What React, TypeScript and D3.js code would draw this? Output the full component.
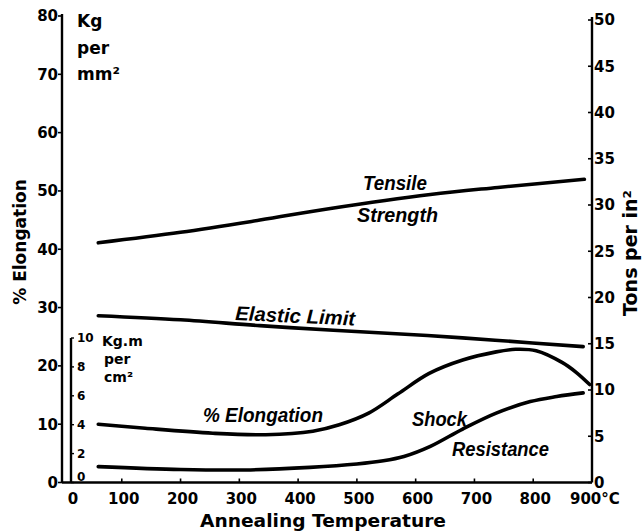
import React from "react";
import * as d3 from "d3";

// ---- data ----
const tempTicks = [0, 100, 200, 300, 400, 500, 600, 700, 800, 900];
const leftTicks = [0, 10, 20, 30, 40, 50, 60, 70, 80];
const rightTicks = [0, 5, 10, 15, 20, 25, 30, 35, 40, 45, 50];
const innerTicks = [0, 2, 4, 6, 8, 10];

// Tensile strength, kg/mm2
const tensileTemp = [60, 200, 335, 455, 625, 740, 887];
const tensileVal = [41.1, 42.9, 45.0, 47.0, 49.4, 50.6, 52.0];
// Elastic limit, kg/mm2
const elasticTemp = [60, 200, 335, 460, 620, 735, 885];
const elasticVal = [28.6, 27.9, 26.9, 26.1, 25.2, 24.4, 23.3];
// % Elongation
const elongTemp = [60, 140, 255, 345, 425, 470, 520, 570, 623, 680, 737, 770, 805, 849, 873, 896];
const elongVal = [10.0, 9.3, 8.45, 8.2, 8.8, 9.9, 11.9, 15.2, 18.7, 21.0, 22.4, 22.85, 22.6, 20.6, 18.9, 16.8];
// Shock resistance, kg.m/cm2
const shockTemp = [60, 200, 310, 420, 500, 545, 580, 625, 680, 737, 795, 840, 885];
const shockVal = [1.1, 0.9, 0.87, 1.05, 1.28, 1.5, 1.8, 2.5, 3.7, 4.8, 5.6, 5.95, 6.2];

const W = 643;
const H = 531;
const FONT = "'DejaVu Sans', Verdana, sans-serif";
const IFONT = "'Liberation Sans', Arial, sans-serif";

export default function App() {
  const x = d3.scaleLinear().domain([0, 900]).range([63, 592]);
  const yL = d3.scaleLinear().domain([0, 80]).range([482.5, 16]);
  const yR = d3.scaleLinear().domain([0, 50]).range([482.5, 20]);
  const yI = d3.scaleLinear().domain([0, 10]).range([482.5, 338]);

  const mk = (ts: number[], vs: number[], ys: d3.ScaleLinear<number, number>) =>
    d3
      .line<number>()
      .x((_, i) => x(ts[i]))
      .y((v) => ys(v))
      .curve(d3.curveCatmullRom.alpha(0.5))(vs) || "";

  const x0 = x(0) - 1;
  const xR = x(900);
  const yB = yL(0);
  const xI = 71;

  const lineStyle = { fill: "none", stroke: "#000", strokeWidth: 3.6, strokeLinecap: "round" as const, strokeLinejoin: "round" as const };
  const ital = { fontFamily: IFONT, fontStyle: "italic", fontWeight: 700, fontSize: 20, fill: "#000" } as const;

  return (
    <svg width={W} height={H} style={{ position: "absolute", left: 0, top: 0, background: "#fff" }}>
      <rect width={W} height={H} fill="#fff" />
      {/* axes */}
      <g stroke="#000" strokeWidth={2.4} fill="none">
        <line x1={x0} y1={yB} x2={x0} y2={yL(80) - 2} />
        <line x1={x0} y1={yB} x2={xR} y2={yB} />
        <line x1={xR} y1={yB} x2={xR} y2={yR(50) - 3} />
        <line x1={xI} y1={yB} x2={xI} y2={yI(10)} />
      </g>
      {/* left ticks */}
      <g fontFamily={FONT} fontWeight={700} fontSize={15} fill="#000">
        {leftTicks.map((t) => (
          <g key={"l" + t}>
            <line x1={x0 - 4} x2={x0} y1={yL(t)} y2={yL(t)} stroke="#000" strokeWidth={1.6} />
            <text x={x0 - 4} y={yL(t)} dy="0.36em" textAnchor="end">{t}</text>
          </g>
        ))}
      </g>
      {/* right ticks */}
      <g fontFamily={FONT} fontWeight={700} fontSize={15} fill="#000">
        {rightTicks.map((t) => (
          <g key={"r" + t}>
            <line x1={xR - 4} x2={xR} y1={yR(t)} y2={yR(t)} stroke="#000" strokeWidth={1.6} />
            <text x={xR + 2} y={yR(t)} dy="0.36em" textAnchor="start">{t}</text>
          </g>
        ))}
      </g>
      {/* inner shock-resistance axis */}
      <g fontFamily={FONT} fontWeight={700} fontSize={12} fill="#000">
        {innerTicks.map((t) => (
          <g key={"i" + t}>
            <line x1={xI} x2={xI + 3} y1={yI(t)} y2={yI(t)} stroke="#000" strokeWidth={1.4} />
            <text x={xI + 6} y={Math.min(yI(t), 477)} dy="0.36em" textAnchor="start">{t}</text>
          </g>
        ))}
      </g>
      {/* bottom ticks */}
      <g fontFamily={FONT} fontWeight={700} fontSize={15} fill="#000">
        {tempTicks.map((t) => (
          <g key={"b" + t}>
            {t > 0 && t < 900 && (
              <line x1={x(t)} x2={x(t)} y1={yB} y2={yB - 4} stroke="#000" strokeWidth={1.6} />
            )}
            {t === 900 ? (
              <text x={x(t) - 22} y={503.5} textAnchor="start">{t}°C</text>
            ) : (
              <text x={t === 0 ? x(t) + 10 : x(t) + 2} y={503.5} textAnchor="middle">{t}</text>
            )}
          </g>
        ))}
      </g>
      {/* curves */}
      <path d={mk(tensileTemp, tensileVal, yL)} {...lineStyle} />
      <path d={mk(elasticTemp, elasticVal, yL)} {...lineStyle} />
      <path d={mk(elongTemp, elongVal, yL)} {...lineStyle} />
      <path d={mk(shockTemp, shockVal, yI)} {...lineStyle} />

      {/* curve labels */}
      <text x={363} y={190} {...ital} textLength={64} lengthAdjust="spacingAndGlyphs">Tensile</text>
      <text x={357} y={222} {...ital} textLength={81} lengthAdjust="spacingAndGlyphs">Strength</text>
      <text x={235} y={320} {...ital} textLength={120} lengthAdjust="spacingAndGlyphs" transform="rotate(2.6 235 320)">Elastic Limit</text>
      <text x={203} y={422} {...ital} textLength={120} lengthAdjust="spacingAndGlyphs">% Elongation</text>
      <text x={412} y={426} {...ital} textLength={55} lengthAdjust="spacingAndGlyphs">Shock</text>
      <text x={452} y={456} {...ital} textLength={97} lengthAdjust="spacingAndGlyphs">Resistance</text>

      {/* unit labels */}
      <g fontFamily={FONT} fontWeight={700} fontSize={17} fill="#000">
        <text x={77} y={27}>Kg</text>
        <text x={77} y={54}>per</text>
        <text x={77} y={80}>mm²</text>
      </g>
      <g fontFamily={FONT} fontWeight={700} fontSize={14} fill="#000">
        <text x={102} y={346}>Kg.m</text>
        <text x={104} y={364}>per</text>
        <text x={104} y={382}>cm²</text>
      </g>

      {/* axis titles */}
      <text
        fontFamily={FONT}
        fontWeight={700}
        fontSize={17}
        textAnchor="middle"
        transform="translate(26,242) rotate(-90)"
      >
        % Elongation
      </text>
      <text
        fontFamily={FONT}
        fontWeight={700}
        fontSize={19}
        textAnchor="middle"
        transform="translate(637,253) rotate(-90)"
      >
        Tons per in²
      </text>
      <text
        fontFamily={FONT}
        fontWeight={700}
        fontSize={18}
        textAnchor="middle"
        x={323}
        y={527}
        textLength={246}
        lengthAdjust="spacingAndGlyphs"
      >
        Annealing  Temperature
      </text>
    </svg>
  );
}
